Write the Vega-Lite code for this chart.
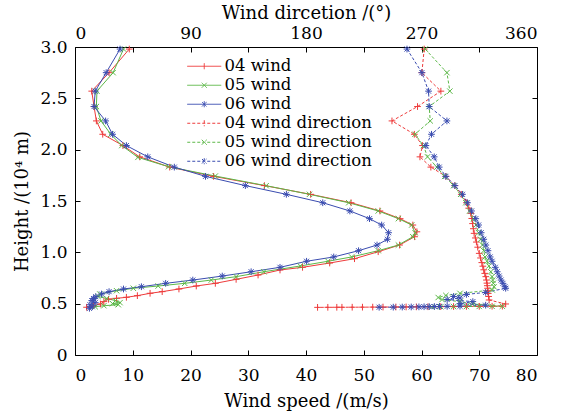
{
  "$schema": "https://vega.github.io/schema/vega-lite/v6.json",
  "width": 462,
  "height": 308,
  "autosize": "none",
  "padding": {"left": 75, "top": 47, "right": 31, "bottom": 57},
  "background": "white",
  "config": {
    "view": {"stroke": "black", "strokeWidth": 1},
    "font": "DejaVu Serif",
    "axis": {
      "domain": false,
      "grid": false,
      "tickColor": "black",
      "tickSize": -5,
      "labelPadding": 12,
      "labelFont": "DejaVu Serif",
      "labelFontSize": 17,
      "labelColor": "black",
      "titleFont": "DejaVu Serif",
      "titleFontSize": 18,
      "titleFontWeight": "normal",
      "titleColor": "black"
    },
    "legend": {
      "orient": "none",
      "legendX": 121,
      "legendY": 11,
      "title": null,
      "symbolSize": 100,
      "symbolStrokeWidth": 1,
      "labelFont": "DejaVu Serif",
      "labelFontSize": 16.5,
      "labelColor": "black",
      "labelOffset": 12,
      "labelLimit": 300,
      "rowPadding": 2,
      "padding": 0
    }
  },
  "data": {
    "values": [
      {"g": "04 wind", "h": 2.98, "v": 9.4}, {"g": "04 wind", "h": 2.75, "v": 5.9}, {"g": "04 wind", "h": 2.57, "v": 2.9}, {"g": "04 wind", "h": 2.42, "v": 3.3}, {"g": "04 wind", "h": 2.28, "v": 3.7}, {"g": "04 wind", "h": 2.15, "v": 4.8}, {"g": "04 wind", "h": 2.04, "v": 8.3}, {"g": "04 wind", "h": 1.93, "v": 11.2}, {"g": "04 wind", "h": 1.83, "v": 16.4}, {"g": "04 wind", "h": 1.74, "v": 24.0}, {"g": "04 wind", "h": 1.65, "v": 32.8}, {"g": "04 wind", "h": 1.565, "v": 40.8}, {"g": "04 wind", "h": 1.483, "v": 47.8}, {"g": "04 wind", "h": 1.403, "v": 52.8}, {"g": "04 wind", "h": 1.328, "v": 56.3}, {"g": "04 wind", "h": 1.266, "v": 58.5}, {"g": "04 wind", "h": 1.2, "v": 59.2}, {"g": "04 wind", "h": 1.152, "v": 58.8}, {"g": "04 wind", "h": 1.071, "v": 56.2}, {"g": "04 wind", "h": 1.006, "v": 52.5}, {"g": "04 wind", "h": 0.938, "v": 48.4}, {"g": "04 wind", "h": 0.896, "v": 44.1}, {"g": "04 wind", "h": 0.854, "v": 39.4}, {"g": "04 wind", "h": 0.828, "v": 35.5}, {"g": "04 wind", "h": 0.779, "v": 31.7}, {"g": "04 wind", "h": 0.737, "v": 27.9}, {"g": "04 wind", "h": 0.698, "v": 24.3}, {"g": "04 wind", "h": 0.672, "v": 21.0}, {"g": "04 wind", "h": 0.643, "v": 18.0}, {"g": "04 wind", "h": 0.617, "v": 15.1}, {"g": "04 wind", "h": 0.601, "v": 13.0}, {"g": "04 wind", "h": 0.578, "v": 10.8}, {"g": "04 wind", "h": 0.562, "v": 8.9}, {"g": "04 wind", "h": 0.552, "v": 7.2}, {"g": "04 wind", "h": 0.543, "v": 5.8}, {"g": "04 wind", "h": 0.52, "v": 5.0}, {"g": "04 wind", "h": 0.497, "v": 4.4}, {"g": "04 wind", "h": 0.48, "v": 3.2}, {"g": "04 wind", "h": 0.465, "v": 2.0},

      {"g": "05 wind", "h": 2.98, "v": 8.4}, {"g": "05 wind", "h": 2.75, "v": 6.6}, {"g": "05 wind", "h": 2.57, "v": 3.8}, {"g": "05 wind", "h": 2.42, "v": 3.7}, {"g": "05 wind", "h": 2.28, "v": 4.5}, {"g": "05 wind", "h": 2.15, "v": 6.2}, {"g": "05 wind", "h": 2.04, "v": 8.1}, {"g": "05 wind", "h": 1.925, "v": 10.9}, {"g": "05 wind", "h": 1.834, "v": 16.2}, {"g": "05 wind", "h": 1.743, "v": 24.3}, {"g": "05 wind", "h": 1.649, "v": 33.1}, {"g": "05 wind", "h": 1.565, "v": 40.6}, {"g": "05 wind", "h": 1.483, "v": 47.4}, {"g": "05 wind", "h": 1.403, "v": 52.5}, {"g": "05 wind", "h": 1.328, "v": 56.0}, {"g": "05 wind", "h": 1.266, "v": 58.3}, {"g": "05 wind", "h": 1.191, "v": 58.9}, {"g": "05 wind", "h": 1.152, "v": 58.5}, {"g": "05 wind", "h": 1.071, "v": 56.0}, {"g": "05 wind", "h": 1.016, "v": 52.5}, {"g": "05 wind", "h": 0.955, "v": 47.9}, {"g": "05 wind", "h": 0.913, "v": 43.8}, {"g": "05 wind", "h": 0.867, "v": 39.0}, {"g": "05 wind", "h": 0.811, "v": 32.7}, {"g": "05 wind", "h": 0.763, "v": 27.9}, {"g": "05 wind", "h": 0.73, "v": 23.6}, {"g": "05 wind", "h": 0.698, "v": 19.0}, {"g": "05 wind", "h": 0.672, "v": 14.4}, {"g": "05 wind", "h": 0.65, "v": 10.1}, {"g": "05 wind", "h": 0.626, "v": 7.2}, {"g": "05 wind", "h": 0.594, "v": 4.3}, {"g": "05 wind", "h": 0.57, "v": 4.0}, {"g": "05 wind", "h": 0.55, "v": 5.5}, {"g": "05 wind", "h": 0.53, "v": 7.0}, {"g": "05 wind", "h": 0.51, "v": 7.8}, {"g": "05 wind", "h": 0.5, "v": 6.5}, {"g": "05 wind", "h": 0.49, "v": 7.5}, {"g": "05 wind", "h": 0.48, "v": 5.0}, {"g": "05 wind", "h": 0.47, "v": 3.5},

      {"g": "06 wind", "h": 2.98, "v": 7.8}, {"g": "06 wind", "h": 2.75, "v": 5.4}, {"g": "06 wind", "h": 2.57, "v": 3.5}, {"g": "06 wind", "h": 2.42, "v": 3.3}, {"g": "06 wind", "h": 2.28, "v": 5.3}, {"g": "06 wind", "h": 2.15, "v": 6.5}, {"g": "06 wind", "h": 2.04, "v": 8.9}, {"g": "06 wind", "h": 1.93, "v": 12.6}, {"g": "06 wind", "h": 1.83, "v": 17.2}, {"g": "06 wind", "h": 1.74, "v": 22.6}, {"g": "06 wind", "h": 1.65, "v": 29.5}, {"g": "06 wind", "h": 1.565, "v": 36.6}, {"g": "06 wind", "h": 1.483, "v": 42.9}, {"g": "06 wind", "h": 1.403, "v": 47.6}, {"g": "06 wind", "h": 1.328, "v": 51.0}, {"g": "06 wind", "h": 1.266, "v": 53.1}, {"g": "06 wind", "h": 1.191, "v": 54.3}, {"g": "06 wind", "h": 1.127, "v": 54.1}, {"g": "06 wind", "h": 1.071, "v": 52.3}, {"g": "06 wind", "h": 1.016, "v": 49.1}, {"g": "06 wind", "h": 0.955, "v": 44.8}, {"g": "06 wind", "h": 0.913, "v": 40.1}, {"g": "06 wind", "h": 0.854, "v": 35.5}, {"g": "06 wind", "h": 0.811, "v": 30.5}, {"g": "06 wind", "h": 0.769, "v": 25.5}, {"g": "06 wind", "h": 0.73, "v": 20.4}, {"g": "06 wind", "h": 0.698, "v": 15.7}, {"g": "06 wind", "h": 0.665, "v": 11.5}, {"g": "06 wind", "h": 0.643, "v": 8.4}, {"g": "06 wind", "h": 0.617, "v": 5.9}, {"g": "06 wind", "h": 0.594, "v": 4.6}, {"g": "06 wind", "h": 0.568, "v": 3.6}, {"g": "06 wind", "h": 0.55, "v": 3.2}, {"g": "06 wind", "h": 0.53, "v": 2.9}, {"g": "06 wind", "h": 0.51, "v": 3.5}, {"g": "06 wind", "h": 0.49, "v": 2.6}, {"g": "06 wind", "h": 0.47, "v": 3.0}, {"g": "06 wind", "h": 0.455, "v": 2.5},

      {"g": "04 wind direction", "h": 2.98, "v": 272.1}, {"g": "04 wind direction", "h": 2.75, "v": 270.3}, {"g": "04 wind direction", "h": 2.57, "v": 285.1}, {"g": "04 wind direction", "h": 2.42, "v": 266.9}, {"g": "04 wind direction", "h": 2.28, "v": 247.0}, {"g": "04 wind direction", "h": 2.15, "v": 264.4}, {"g": "04 wind direction", "h": 2.04, "v": 270.8}, {"g": "04 wind direction", "h": 1.93, "v": 268.8}, {"g": "04 wind direction", "h": 1.83, "v": 277.3}, {"g": "04 wind direction", "h": 1.74, "v": 289.0}, {"g": "04 wind direction", "h": 1.65, "v": 296.0}, {"g": "04 wind direction", "h": 1.565, "v": 301.0}, {"g": "04 wind direction", "h": 1.483, "v": 305.0}, {"g": "04 wind direction", "h": 1.43, "v": 306.8}, {"g": "04 wind direction", "h": 1.38, "v": 308.4}, {"g": "04 wind direction", "h": 1.33, "v": 309.2}, {"g": "04 wind direction", "h": 1.28, "v": 309.8}, {"g": "04 wind direction", "h": 1.23, "v": 310.4}, {"g": "04 wind direction", "h": 1.185, "v": 311.0}, {"g": "04 wind direction", "h": 1.14, "v": 312.0}, {"g": "04 wind direction", "h": 1.1, "v": 312.8}, {"g": "04 wind direction", "h": 1.05, "v": 313.8}, {"g": "04 wind direction", "h": 0.99, "v": 315.0}, {"g": "04 wind direction", "h": 0.945, "v": 316.0}, {"g": "04 wind direction", "h": 0.9, "v": 317.0}, {"g": "04 wind direction", "h": 0.865, "v": 317.8}, {"g": "04 wind direction", "h": 0.83, "v": 318.5}, {"g": "04 wind direction", "h": 0.795, "v": 319.3}, {"g": "04 wind direction", "h": 0.763, "v": 320.1}, {"g": "04 wind direction", "h": 0.73, "v": 320.6}, {"g": "04 wind direction", "h": 0.7, "v": 321.0}, {"g": "04 wind direction", "h": 0.675, "v": 321.3}, {"g": "04 wind direction", "h": 0.65, "v": 321.5}, {"g": "04 wind direction", "h": 0.625, "v": 321.8}, {"g": "04 wind direction", "h": 0.6, "v": 322.0}, {"g": "04 wind direction", "h": 0.57, "v": 322.3}, {"g": "04 wind direction", "h": 0.536, "v": 322.7}, {"g": "04 wind direction", "h": 0.497, "v": 335.6}, {"g": "04 wind direction", "h": 0.476, "v": 333}, {"g": "04 wind direction", "h": 0.475, "v": 325}, {"g": "04 wind direction", "h": 0.474, "v": 315}, {"g": "04 wind direction", "h": 0.473, "v": 305}, {"g": "04 wind direction", "h": 0.472, "v": 295}, {"g": "04 wind direction", "h": 0.471, "v": 285}, {"g": "04 wind direction", "h": 0.47, "v": 275}, {"g": "04 wind direction", "h": 0.469, "v": 266}, {"g": "04 wind direction", "h": 0.468, "v": 258}, {"g": "04 wind direction", "h": 0.4675, "v": 250}, {"g": "04 wind direction", "h": 0.467, "v": 240}, {"g": "04 wind direction", "h": 0.4665, "v": 232}, {"g": "04 wind direction", "h": 0.466, "v": 224}, {"g": "04 wind direction", "h": 0.4655, "v": 216}, {"g": "04 wind direction", "h": 0.465, "v": 208}, {"g": "04 wind direction", "h": 0.4648, "v": 204}, {"g": "04 wind direction", "h": 0.4645, "v": 197}, {"g": "04 wind direction", "h": 0.464, "v": 189},

      {"g": "05 wind direction", "h": 2.98, "v": 272.9}, {"g": "05 wind direction", "h": 2.75, "v": 289.8}, {"g": "05 wind direction", "h": 2.57, "v": 292.1}, {"g": "05 wind direction", "h": 2.42, "v": 276.0}, {"g": "05 wind direction", "h": 2.28, "v": 276.8}, {"g": "05 wind direction", "h": 2.15, "v": 264.9}, {"g": "05 wind direction", "h": 2.04, "v": 271.5}, {"g": "05 wind direction", "h": 1.93, "v": 274.7}, {"g": "05 wind direction", "h": 1.83, "v": 282.0}, {"g": "05 wind direction", "h": 1.74, "v": 288.0}, {"g": "05 wind direction", "h": 1.65, "v": 295.0}, {"g": "05 wind direction", "h": 1.565, "v": 300.5}, {"g": "05 wind direction", "h": 1.483, "v": 304.5}, {"g": "05 wind direction", "h": 1.403, "v": 307.5}, {"g": "05 wind direction", "h": 1.328, "v": 310.5}, {"g": "05 wind direction", "h": 1.266, "v": 312.5}, {"g": "05 wind direction", "h": 1.191, "v": 314.5}, {"g": "05 wind direction", "h": 1.127, "v": 316.0}, {"g": "05 wind direction", "h": 1.071, "v": 317.5}, {"g": "05 wind direction", "h": 1.016, "v": 318.5}, {"g": "05 wind direction", "h": 0.955, "v": 319.5}, {"g": "05 wind direction", "h": 0.913, "v": 321.0}, {"g": "05 wind direction", "h": 0.867, "v": 322.5}, {"g": "05 wind direction", "h": 0.811, "v": 324.0}, {"g": "05 wind direction", "h": 0.763, "v": 325.0}, {"g": "05 wind direction", "h": 0.73, "v": 325.5}, {"g": "05 wind direction", "h": 0.698, "v": 326.0}, {"g": "05 wind direction", "h": 0.665, "v": 326.5}, {"g": "05 wind direction", "h": 0.633, "v": 325.2}, {"g": "05 wind direction", "h": 0.6, "v": 300}, {"g": "05 wind direction", "h": 0.58, "v": 289}, {"g": "05 wind direction", "h": 0.56, "v": 283}, {"g": "05 wind direction", "h": 0.54, "v": 286}, {"g": "05 wind direction", "h": 0.52, "v": 300}, {"g": "05 wind direction", "h": 0.5, "v": 310}, {"g": "05 wind direction", "h": 0.475, "v": 333}, {"g": "05 wind direction", "h": 0.474, "v": 325}, {"g": "05 wind direction", "h": 0.473, "v": 315}, {"g": "05 wind direction", "h": 0.472, "v": 305}, {"g": "05 wind direction", "h": 0.471, "v": 295}, {"g": "05 wind direction", "h": 0.47, "v": 285}, {"g": "05 wind direction", "h": 0.469, "v": 278},

      {"g": "06 wind direction", "h": 2.98, "v": 258.7}, {"g": "06 wind direction", "h": 2.75, "v": 270.3}, {"g": "06 wind direction", "h": 2.57, "v": 275.5}, {"g": "06 wind direction", "h": 2.42, "v": 276.0}, {"g": "06 wind direction", "h": 2.28, "v": 289.8}, {"g": "06 wind direction", "h": 2.15, "v": 277.8}, {"g": "06 wind direction", "h": 2.04, "v": 273.4}, {"g": "06 wind direction", "h": 1.93, "v": 279.9}, {"g": "06 wind direction", "h": 1.83, "v": 283.8}, {"g": "06 wind direction", "h": 1.74, "v": 289.0}, {"g": "06 wind direction", "h": 1.65, "v": 296.0}, {"g": "06 wind direction", "h": 1.565, "v": 301.9}, {"g": "06 wind direction", "h": 1.483, "v": 305.8}, {"g": "06 wind direction", "h": 1.403, "v": 309.0}, {"g": "06 wind direction", "h": 1.328, "v": 312.3}, {"g": "06 wind direction", "h": 1.266, "v": 314.5}, {"g": "06 wind direction", "h": 1.191, "v": 316.5}, {"g": "06 wind direction", "h": 1.127, "v": 318.5}, {"g": "06 wind direction", "h": 1.071, "v": 320.1}, {"g": "06 wind direction", "h": 1.016, "v": 321.8}, {"g": "06 wind direction", "h": 0.955, "v": 323.5}, {"g": "06 wind direction", "h": 0.913, "v": 325.0}, {"g": "06 wind direction", "h": 0.854, "v": 327.5}, {"g": "06 wind direction", "h": 0.811, "v": 329.0}, {"g": "06 wind direction", "h": 0.769, "v": 330.5}, {"g": "06 wind direction", "h": 0.73, "v": 332.0}, {"g": "06 wind direction", "h": 0.698, "v": 333.5}, {"g": "06 wind direction", "h": 0.665, "v": 335.0}, {"g": "06 wind direction", "h": 0.65, "v": 335.6}, {"g": "06 wind direction", "h": 0.61, "v": 320}, {"g": "06 wind direction", "h": 0.59, "v": 305}, {"g": "06 wind direction", "h": 0.57, "v": 295}, {"g": "06 wind direction", "h": 0.555, "v": 300}, {"g": "06 wind direction", "h": 0.54, "v": 290}, {"g": "06 wind direction", "h": 0.52, "v": 310}, {"g": "06 wind direction", "h": 0.5, "v": 300}, {"g": "06 wind direction", "h": 0.485, "v": 320}, {"g": "06 wind direction", "h": 0.476, "v": 300}, {"g": "06 wind direction", "h": 0.474, "v": 290}, {"g": "06 wind direction", "h": 0.473, "v": 284}, {"g": "06 wind direction", "h": 0.472, "v": 280}, {"g": "06 wind direction", "h": 0.471, "v": 276}, {"g": "06 wind direction", "h": 0.47, "v": 272}, {"g": "06 wind direction", "h": 0.469, "v": 268}, {"g": "06 wind direction", "h": 0.468, "v": 262}, {"g": "06 wind direction", "h": 0.467, "v": 255}, {"g": "06 wind direction", "h": 0.466, "v": 248}, {"g": "06 wind direction", "h": 0.465, "v": 237}
    ]
  },
  "encoding": {
    "color": {
      "field": "g",
      "type": "nominal",
      "scale": {
        "domain": ["04 wind", "05 wind", "06 wind", "04 wind direction", "05 wind direction", "06 wind direction"],
        "range": ["#ee3b3b", "#5cb848", "#3a4cb0", "#ee3b3b", "#5cb848", "#3a4cb0"]
      },
      "legend": {
        "encode": {
          "symbols": {
            "update": {
              "shape": {"signal": "substring(datum.value,0,2)=='04' ? 'M-3.4,0L3.4,0M0,-0.6L0,0.6' : substring(datum.value,0,2)=='05' ? 'M-3.4,0L3.4,0M-0.5,-0.5L0.5,0.5M-0.5,0.5L0.5,-0.5' : 'M-3.4,0L3.4,0M0,-0.6L0,0.6M-0.45,-0.45L0.45,0.45M-0.45,0.45L0.45,-0.45'"},
              "strokeDash": {"signal": "indexof(datum.value,'direction')>=0 ? [3,2] : [1,0]"},
              "fill": {"value": "transparent"}
            }
          }
        }
      }
    }
  },
  "layer": [
    {
      "transform": [{"filter": "indexof(datum.g,'direction')<0"}],
      "encoding": {
        "x": {"field": "v", "type": "quantitative", "scale": {"domain": [0, 80], "nice": false},
              "axis": {"orient": "bottom", "values": [0, 10, 20, 30, 40, 50, 60, 70, 80], "title": "Wind speed /(m/s)", "titlePadding": 9, "labelPadding": 17}},
        "y": {"field": "h", "type": "quantitative", "scale": {"domain": [0, 3], "nice": false},
              "axis": {"orient": "left", "values": [0, 0.5, 1, 1.5, 2, 2.5, 3], "labelExpr": "datum.value == 0 ? '0' : format(datum.value, '.1f')", "title": "Height /(10⁴ m)", "titlePadding": 8, "labelPadding": 13}}
      },
      "layer": [
        {
          "mark": {"type": "line", "strokeWidth": 1},
          "encoding": {"order": {"field": "h", "sort": "descending"}}
        },
        {
          "mark": {"type": "point", "filled": false, "strokeWidth": 1, "size": 45, "opacity": 1},
          "encoding": {
            "shape": {
              "condition": [
                {"test": "substring(datum.g,0,2)=='04'", "value": "M-1,0L1,0M0,-1L0,1"},
                {"test": "substring(datum.g,0,2)=='05'", "value": "M-0.8,-0.8L0.8,0.8M-0.8,0.8L0.8,-0.8"}
              ],
              "value": "M-1,0L1,0M0,-1L0,1M-0.75,-0.75L0.75,0.75M-0.75,0.75L0.75,-0.75"
            }
          }
        }
      ]
    },
    {
      "transform": [{"filter": "indexof(datum.g,'direction')>=0"}],
      "encoding": {
        "x": {"field": "v", "type": "quantitative", "scale": {"domain": [0, 360], "nice": false},
              "axis": {"orient": "top", "values": [0, 45, 90, 135, 180, 225, 270, 315, 360], "labelExpr": "datum.value % 90 == 0 ? datum.label : ''", "title": "Wind dircetion /(°)", "titlePadding": 2, "labelPadding": 10}},
        "y": {"field": "h", "type": "quantitative", "scale": {"domain": [0, 3], "nice": false},
              "axis": {"orient": "right", "values": [0, 0.5, 1, 1.5, 2, 2.5, 3], "labels": false, "title": null}}
      },
      "layer": [
        {
          "mark": {"type": "line", "strokeWidth": 1, "strokeDash": [3, 2]},
          "encoding": {"order": {"field": "h", "sort": "descending"}}
        },
        {
          "mark": {"type": "point", "filled": false, "strokeWidth": 1, "size": 45, "opacity": 1},
          "encoding": {
            "shape": {
              "condition": [
                {"test": "substring(datum.g,0,2)=='04'", "value": "M-1,0L1,0M0,-1L0,1"},
                {"test": "substring(datum.g,0,2)=='05'", "value": "M-0.8,-0.8L0.8,0.8M-0.8,0.8L0.8,-0.8"}
              ],
              "value": "M-1,0L1,0M0,-1L0,1M-0.75,-0.75L0.75,0.75M-0.75,0.75L0.75,-0.75"
            }
          }
        }
      ]
    }
  ],
  "resolve": {"scale": {"x": "independent"}, "axis": {"x": "independent", "y": "independent"}}
}
